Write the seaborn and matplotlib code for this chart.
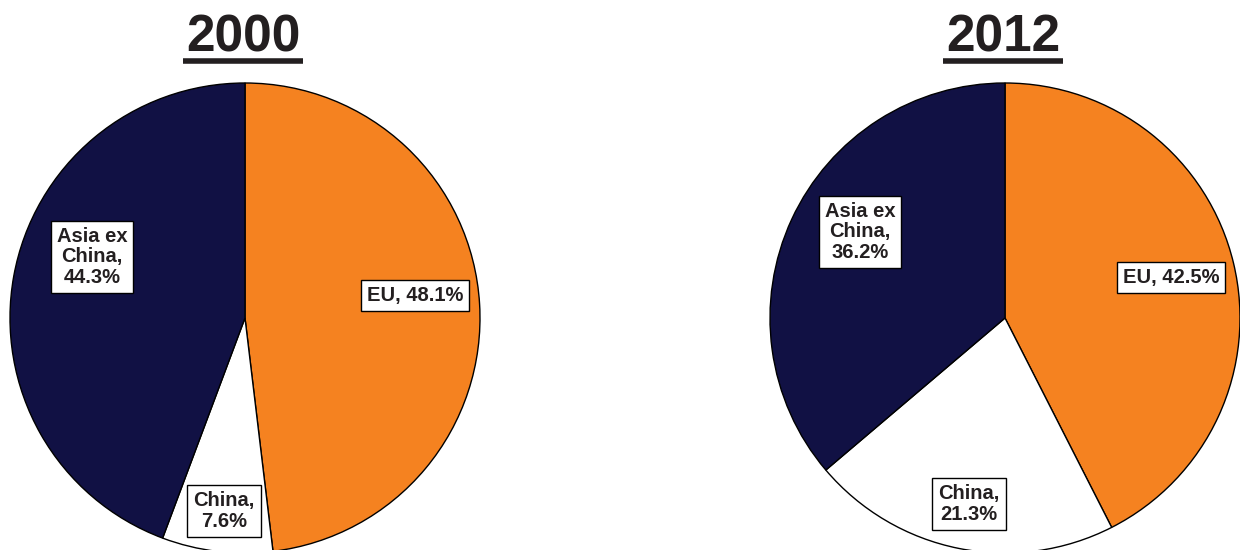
import numpy as np
import matplotlib
matplotlib.use("Agg")
import matplotlib.pyplot as plt
import seaborn as sns

# data
years = ["2000", "2012"]
regions = ["EU", "China", "Asia ex China"]
share_2000 = [48.1, 7.6, 44.3]
share_2012 = [42.5, 21.3, 36.2]
label_text = {
    "EU": "{r}, {v}%",
    "China": "China,\n{v}%",
    "Asia ex China": "Asia ex\nChina,\n{v}%",
}
colors = ["#F58220", "#FFFFFF", "#111144"]

sns.set_theme(style="white")
plt.rcParams['font.family'] = ['Liberation Sans', 'DejaVu Sans']

# layout (pixels, figure is 1240x550 and axes fills it)
centers = [(245, 232), (1005, 232)]
radius = 235
# label centre offsets in radius units, per pie, per region
label_off = [
    [(0.723, 0.094), (-0.089, -0.821), (-0.651, 0.260)],
    [(0.706, 0.174), (-0.153, -0.791), (-0.617, 0.366)],
]

fig = plt.figure(figsize=(12.4, 5.5), dpi=100)
ax = fig.add_axes([0, 0, 1, 1])

titles = []
for i, (year, vals) in enumerate(zip(years, [share_2000, share_2012])):
    cx, cy = centers[i]
    ax.pie(vals, colors=colors, startangle=90, counterclock=False,
           center=(cx, cy), radius=radius,
           wedgeprops=dict(edgecolor="black", linewidth=1.0))
    for j, (reg, v) in enumerate(zip(regions, vals)):
        dx, dy = label_off[i][j]
        ax.text(cx + dx * radius, cy + dy * radius,
                label_text[reg].format(r=reg, v=v),
                ha="center", va="center", fontsize=14.5, fontweight="bold",
                color="#231F20", linespacing=1.1,
                bbox=dict(boxstyle="square,pad=0.3", fc="white",
                          ec="black", lw=1.0))
    t = ax.text(cx - 2, 498, year, ha="center", va="baseline",
                fontsize=37, fontweight="bold", color="#231F20")
    titles.append(t)

ax.set_xlim(0, 1240)
ax.set_ylim(0, 550)
ax.set_aspect("equal")
ax.axis("off")

# underline the titles
fig.canvas.draw()
for t in titles:
    bb = t.get_window_extent()
    ax.plot([bb.x0 - 3, bb.x1 + 3], [489.5, 489.5], color="#231F20",
            lw=4, solid_capstyle="butt")

fig.savefig("out.png", dpi=100)
